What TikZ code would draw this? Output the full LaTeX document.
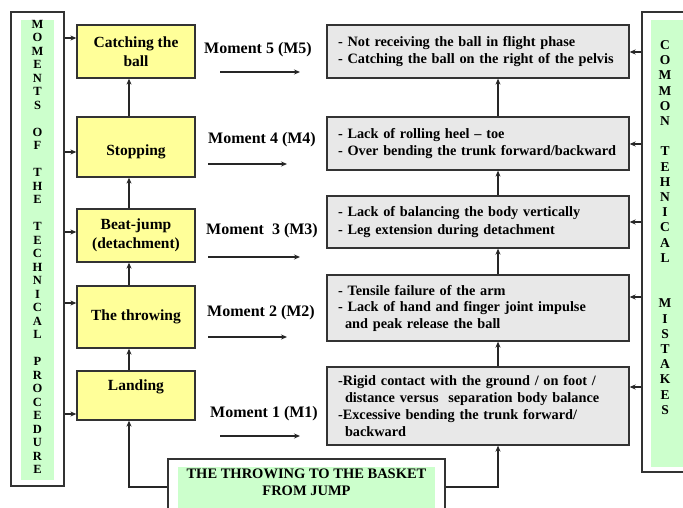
\documentclass[tikz,border=0pt]{standalone}
\usepackage{fontspec}
\setmainfont{Liberation Serif}
\usetikzlibrary{arrows.meta}
\definecolor{yfill}{HTML}{FFFF99}
\definecolor{gfill}{HTML}{E8E8E8}
\definecolor{grn}{HTML}{CCFFCC}
\definecolor{edge}{HTML}{333333}
\begin{document}
\begin{tikzpicture}[x=1pt,y=-1pt,
  box/.style={draw=edge,line width=1.3pt,inner sep=0pt},
  ybox/.style={box,fill=yfill,minimum width=118pt,align=center,font=\bfseries\fontsize{15.5}{19}\selectfont},
  ytext/.style={inner sep=0pt,align=center,font=\bfseries\fontsize{15.5}{19}\selectfont},
  gbox/.style={box,fill=gfill,text width=280pt,inner xsep=11pt,align=left,font=\bfseries\fontsize{14.3}{17.5}\selectfont},
  arr/.style={-{Stealth[length=6pt,width=5pt]},line width=1.1pt,draw=black!85},
  mlabel/.style={inner sep=0pt,font=\bfseries\fontsize{16}{19}\selectfont},
  strip/.style={fill=grn,inner sep=0pt},
]
\useasboundingbox (0,0) rectangle (683,508);
\fill[white] (0,0) rectangle (683,508);

% left frame
\node[box,fill=white,minimum width=53pt,minimum height=474pt] (lbox) at (37.5,249) {};
\node[strip,minimum width=33pt,minimum height=460pt] (lstrip) at (37.5,250) {};
\node[inner sep=0pt,align=center,font=\bfseries\fontsize{12.5}{13.5}\selectfont] (ltxt) at (37.5,247)
 {M\\O\\M\\E\\N\\T\\S\\~\\O\\F\\~\\T\\H\\E\\~\\T\\E\\C\\H\\N\\I\\C\\A\\L\\~\\P\\R\\O\\C\\E\\D\\U\\R\\E};

% right frame
\node[box,fill=white,minimum width=58pt,minimum height=460pt] (rbox) at (671,242) {};
\node[strip,minimum width=49pt,minimum height=447pt] (rstrip) at (675.5,243.5) {};
\node[inner sep=0pt,align=center,font=\bfseries\fontsize{13.5}{15.2}\selectfont] (rtxt) at (665,227.5)
 {C\\O\\M\\M\\O\\N\\~\\T\\E\\H\\N\\I\\C\\A\\L\\~\\~\\M\\I\\S\\T\\A\\K\\E\\S};

% bottom box
\node[box,fill=white,minimum width=277pt,minimum height=56pt] (bot) at (306.5,487) {};
\node[strip,minimum width=257pt,minimum height=45pt] (botstrip) at (306.5,489.5) {};
\node[inner sep=0pt,align=center,font=\bfseries\fontsize{14.5}{17}\selectfont] (bottxt) at (306.5,482)
 {THE THROWING TO THE BASKET\\FROM JUMP};

% yellow boxes
\node[ybox,minimum height=53pt] (catch) at (136,51.5) {Catching the\\ball};
\node[ybox,minimum height=60pt] (stop) at (136,147) {};
\node[ytext] (stopt) at (136,152) {Stopping};
\node[ybox,minimum height=53pt] (beat) at (136,235.5) {Beat-jump\\(detachment)};
\node[ybox,minimum height=62pt] (throw) at (136,317) {The throwing};
\node[ybox,minimum height=49pt] (land) at (136,395.5) {};
\node[ytext] (landt) at (136,387) {Landing};

% grey boxes
\node[gbox,minimum height=53pt] (g5) at (478,51.5)
 {\mbox{- Not receiving the ball in flight phase}\\\mbox{- Catching the ball on the right of the pelvis}};
\node[gbox,minimum height=53pt] (g4) at (478,143.5)
 {\mbox{- Lack of rolling heel -- toe}\\\mbox{- Over bending the trunk forward/backward}};
\node[gbox,minimum height=52pt] (g3) at (478,222)
 {\mbox{- Lack of balancing the body vertically}\\\mbox{- Leg extension during detachment}};
\node[gbox,minimum height=66pt,font=\bfseries\fontsize{14.3}{16.5}\selectfont] (g2) at (478,308)
 {\mbox{- Tensile failure of the arm}\\\mbox{- Lack of hand and finger joint impulse}\\\mbox{\hspace*{7pt}and peak release the ball}};
\node[gbox,minimum height=78pt,font=\bfseries\fontsize{14.3}{16.7}\selectfont] (g1) at (478,406)
 {\mbox{-Rigid contact with the ground / on foot /}\\\mbox{\hspace*{7pt}distance versus\ \ separation body balance}\\\mbox{-Excessive bending the trunk forward/}\\\mbox{\hspace*{7pt}backward}};

% moment labels
\node[mlabel] (m5) at (258,50) {Moment 5 (M5)};
\node[mlabel] (m4) at (262,140) {Moment 4 (M4)};
\node[mlabel] (m3) at (262,231) {Moment\ \ 3 (M3)};
\node[mlabel] (m2) at (261,313) {Moment 2 (M2)};
\node[mlabel] (m1) at (264,414) {Moment 1 (M1)};

\coordinate (m5s) at (220,72);  \coordinate (m5e) at (300,72);
\coordinate (m4s) at (208,164); \coordinate (m4e) at (287,164);
\coordinate (m3s) at (208,257); \coordinate (m3e) at (300,257);
\coordinate (m2s) at (208,337); \coordinate (m2e) at (287,337);
\coordinate (m1s) at (220,436); \coordinate (m1e) at (300,436);
\draw[arr] (m5s) -- (m5e);
\draw[arr] (m4s) -- (m4e);
\draw[arr] (m3s) -- (m3e);
\draw[arr] (m2s) -- (m2e);
\draw[arr] (m1s) -- (m1e);

% vertical chains
\coordinate (vx) at (129,0);
\coordinate (gx) at (498,0);
\draw[arr] (land.north -| vx) -- (throw.south -| vx);
\draw[arr] (throw.north -| vx) -- (beat.south -| vx);
\draw[arr] (beat.north -| vx) -- (stop.south -| vx);
\draw[arr] (stop.north -| vx) -- (catch.south -| vx);
\draw[arr] (g1.north -| gx) -- (g2.south -| gx);
\draw[arr] (g2.north -| gx) -- (g3.south -| gx);
\draw[arr] (g3.north -| gx) -- (g4.south -| gx);
\draw[arr] (g4.north -| gx) -- (g5.south -| gx);

% from bottom box
\draw[arr] (bot.west) -| (land.south -| vx);
\draw[arr] (bot.east) -| (g1.south -| gx);

% left arrows
\coordinate (la5) at (0,38);
\coordinate (la4) at (0,152);
\coordinate (la3) at (0,232);
\coordinate (la2) at (0,303);
\coordinate (la1) at (0,414);
\draw[arr] (lbox.east |- la5) -- (catch.west |- la5);
\draw[arr] (lbox.east |- la4) -- (stop.west |- la4);
\draw[arr] (lbox.east |- la3) -- (beat.west |- la3);
\draw[arr] (lbox.east |- la2) -- (throw.west |- la2);
\draw[arr] (lbox.east |- la1) -- (land.west |- la1);

% right arrows
\coordinate (ra5) at (0,52);
\coordinate (ra4) at (0,144);
\coordinate (ra3) at (0,222);
\coordinate (ra2) at (0,297);
\coordinate (ra1) at (0,387);
\draw[arr] (rbox.west |- ra5) -- (g5.east |- ra5);
\draw[arr] (rbox.west |- ra4) -- (g4.east |- ra4);
\draw[arr] (rbox.west |- ra3) -- (g3.east |- ra3);
\draw[arr] (rbox.west |- ra2) -- (g2.east |- ra2);
\draw[arr] (rbox.west |- ra1) -- (g1.east |- ra1);
\end{tikzpicture}
\end{document}
